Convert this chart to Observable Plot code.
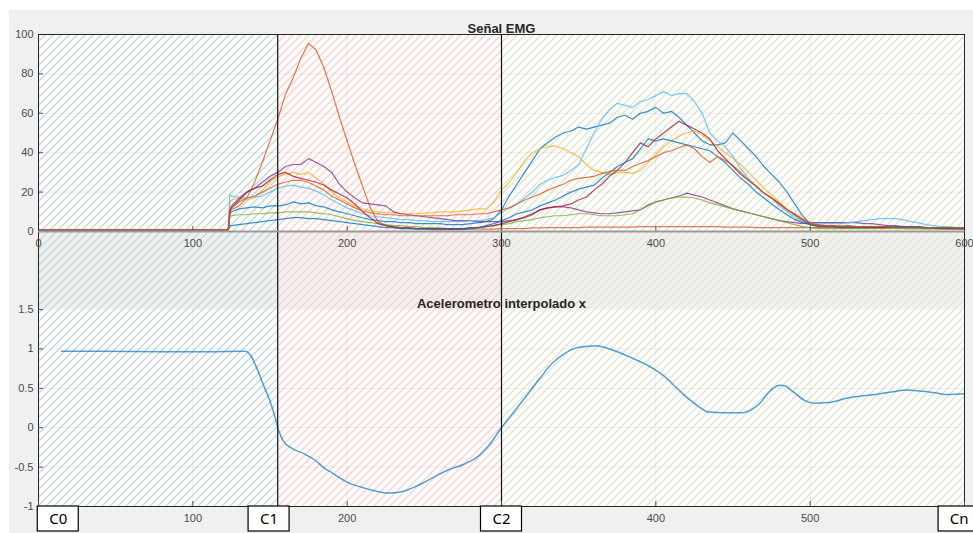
<!DOCTYPE html>
<html><head><meta charset="utf-8">
<script src="https://cdn.jsdelivr.net/npm/d3@7"></script>
<script src="https://cdn.jsdelivr.net/npm/@observablehq/plot@0.6"></script>
<style>
body{margin:0;background:#fff;}
#fig{position:relative;width:973px;height:533px;overflow:hidden;background:#fff;}
#bg{position:absolute;left:9px;top:10px;right:0;bottom:0;background:#f0f0f0;}
#topPanel,#botPanel{position:absolute;left:0;width:973px;}
#topPanel{top:0;height:258px;} #botPanel{top:231px;height:302px;}
svg{overflow:visible;}
</style></head><body>
<div id="fig"><div id="bg"></div><div id="botPanel"></div><div id="topPanel"></div></div>
<script>
// ---------- data ----------
const titleTop = "Señal EMG";
const titleBottom = "Acelerometro interpolado x";

const emgX = [0, 60, 123, 124,
 125,130,135,140,145,150,155,160,165,170,
 175,180,185,190,195,200,205,210,215,220,
 225,230,235,240,245,250,255,260,265,270,
 275,280,285,290,295,300,305,310,315,320,
 325,330,335,340,345,350,355,360,365,370,
 375,380,385,390,395,400,405,410,415,420,
 425,430,435,440,445,450,455,460,465,470,
 475,480,485,490,495,500,505,510,515,520,
 525,530,535,540,545,550,555,560,565,570,
 575,580,585,590,595,600];

const seriesNames = ["s1","s2","s3","s4","s5","s6","s7","s8","s9"];

const emgS1 = [1,1,1,9,
 10,11.5,12,12.5,12,13,13,13.5,15,14,
 14.5,13,12.5,11,10,9,8,7,6,5.5,
 5,5,4.5,4.5,4,4,4,4,3.5,3.5,
 3.5,4,4.5,5,6.5,11,18,24,30,36,
 42,45,48,50,51,53,52,53,54,55,
 58,59,57,60,61,63,60,61,58,54,
 50,46,44,44,45,50,46,42,38,33,
 29,25,20,14,8,4,3.5,3,3,3,
 3,2.5,2.5,2.5,2.5,2.5,2.5,2.5,2.5,2.5,
 2,2,2,2,2,2];
const emgS2 = [0.8,0.8,0.8,10,
 11,13,17,25,35,46,57,69.5,78,88,
 95.5,92,83,71,58,46,34,23,12,5,
 3,2,1.5,1.5,1.5,1.5,1.2,1.2,1.2,1.2,
 1.2,1.2,1.2,1.2,1.2,1.5,1.5,1.5,1.5,1.8,
 1.8,2,2,2,2,2,2.2,2.2,2.2,2.2,
 2.2,2.2,2.2,2.5,2.5,2.5,2.5,2.5,2.5,2.5,
 2.5,2.5,2.5,2.5,2.2,2.2,2.2,2.2,2,2,
 2,2,2,2,2,2,2,2,2,2,
 2,2,2,2,2,2,2,2,2,2,
 2,1.8,1.8,1.5,1.5,1.5];
const emgS3 = [1,1,1,15,
 16,17,16,17,21,25,28,29,30,29,
 30,27,24,20,17,15,13,11.5,10.5,10,
 9.5,9.5,9,9,9,9.5,9.5,10,10,10,
 10.5,11,11.5,11.5,15,21,25,30,36,40,
 42,43,43.5,42,40,38,34,31,30,29,
 30,30,29.5,31,35,39,43,46,48.5,50,
 51,49,46,43,40,37,34,30,26,22,
 18.5,15,11.5,8,5.5,3.5,3,3,3,3,
 2.5,2.5,2.5,2.5,2.5,2.5,2.5,2.5,2.5,2,
 2,2,2,1.8,1.8,1.8];
const emgS4 = [1,1,1,11,
 13,17,20,22,25,28,30,33,34,34,
 37,35,33,30,24,20,17,14.5,14,13.5,
 13,10,9,8.5,8,7.5,7,6.5,6,5.5,
 5.5,5.5,5,5,5,5,5.5,6,7,8.5,
 11,12,12.5,12.5,12,11,10,9.5,9,9,
 9.5,10,10.5,11,13.5,15,16,17,18,19.5,
 18.5,17.5,16,14.5,13,11.5,10.5,9.5,8.5,7.5,
 6.5,5.5,5,4.5,4,4.5,4.5,4.5,4.5,4.5,
 4.5,4.5,4,4,3.5,3,3,2.5,2.5,2,
 2,2,1.8,1.5,1.5,1.5];
const emgS5 = [0.8,0.8,0.8,8,
 8,8.5,8.5,9,9,9.5,9.5,10,10,10,
 10,9.5,9,8.5,7.5,6.5,5.5,5,4.5,4,
 3.5,3,3,2.5,2.5,2,2,1.8,1.5,1.5,
 1.5,1.8,2,2.5,3,3.5,4,5,5.5,6,
 7,7.5,8,8,8.5,9,9,8.5,8,8,
 8,8.5,9,11,13,15,16,17,17.5,17.5,
 17,16,14.5,13.5,12.5,11.5,10.5,9.5,8.5,7.5,
 6.5,5.5,4.5,3.5,2.5,2,1.5,1.5,1.5,1.5,
 1.5,1.5,1.5,1.5,1.5,1.4,1.4,1.4,1.3,1.3,
 1.2,1.2,1.2,1.2,1.2,1.2];
const emgS6 = [1,1,1,19,
 18,17.5,17,17.5,18,20,22,23,23.5,22.5,
 22,20.5,18.5,16,14,12,10.5,9,8,7.5,
 7,6.5,6,6,5.5,5.5,5,5,5,5,
 5,5.5,5.5,6,7,9.5,12,14,17,20,
 24,26,27.5,28.5,31,34,42,50,57,62,
 65,64,63,66,67,69,71,69,70,70,
 66,60,50,46,43,38,32,27,23,19.5,
 17,13,10,7,5,4,4,4,4,4,
 4.5,5,5.5,6,6.5,6.5,6.5,6,5,4.5,
 3.5,3,2.5,2.5,2,2];
const emgS7 = [1,1,1,11,
 12,16,20,22,23,26,29,30,28,27,
 26,25,23.5,21,19,17,14,10,7,4,
 3,2.5,2,2,1.5,1.5,1.5,1.5,1.5,1.5,
 1.5,2,2,2.5,3,4,5,6,7.5,9,
 11,12,12.5,13,14,16,17.5,21,24,28,
 31,35,40,45,43,47,50,53,56,54,
 52,50,47,41,37,33,29,26,23,19.5,
 17,14,11,8.5,6,3.5,2.5,2.5,2.5,2,
 2,2,2,2,2,2,2,2,2,2,
 1.8,1.8,1.5,1.5,1.5,1.5];
const emgS8 = [1,1,1,2.5,
 3,3.5,4,4.5,5,5.5,6,6.5,7,7,
 6.5,6.5,6,5.5,5,4.5,4,3.5,3,2.5,
 2,2,1.5,1.5,1.2,1.2,1,1,1,1,
 1,1.5,2,3,4,5.5,7,9,10,11,
 13,14.5,16,18,20,21.5,22.5,23.5,27,30,
 33,35,37,42,47,46,47,46,45,44,
 43,42,41,38,35,31,27,24,20,17,
 14,11,8.5,6,4.5,3.5,3,3,2.5,2.5,
 2.5,2.5,2.5,2.5,2.5,2.5,2.5,2.5,2.5,2.5,
 2,2,2,2,1.8,1.8];
const emgS9 = [1,1,1,11,
 12,15,17,18,20,22,24,25,26,26,
 25,23,21,18,16,14,12,10.5,9.5,9,
 8.5,8.5,8,8,8,8,8,8,8,8.5,
 8.5,8.5,9,9,10,11,12,14,16,17.5,
 19,21,22.5,24,26,27,27.5,28,29.5,30.5,
 31,31,33,34.5,36,38,40,41,42.5,44,
 42,38,35,38,36,33.5,30,26,23,19.5,
 17,14.5,11,9,6.5,4.5,3,3,3,2.5,
 2.5,2.5,2.5,2.5,2.5,2.5,2,2,2,2,
 2,2,2,1.8,1.8,1.8];

const accX = [15,40,80,110,134,138,142,146,150,153,155.5,158.7,164,172,179,185,190,201,212,227,236,245,255,266,276,285,292,300,308,317.6,325,333,340,348,355,361,371.6,385,397.6,405,412.7,418,423.6,430,434,445,456,462,467,471,476,480,484,488,492,496,503,512,525,542,555,562,575,582,588,600];
const accV = [0.97,0.97,0.965,0.965,0.97,0.9,0.73,0.53,0.34,0.15,-0.03,-0.17,-0.26,-0.33,-0.41,-0.51,-0.57,-0.70,-0.77,-0.83,-0.81,-0.74,-0.64,-0.53,-0.46,-0.36,-0.22,0.0,0.2,0.44,0.63,0.82,0.93,1.01,1.03,1.04,0.99,0.88,0.76,0.66,0.52,0.42,0.33,0.24,0.2,0.19,0.19,0.23,0.3,0.4,0.5,0.54,0.53,0.47,0.41,0.35,0.31,0.32,0.38,0.42,0.46,0.48,0.46,0.44,0.42,0.43];

const regionStart = [0, 155, 300];
const regionEnd = [155, 300, 600];
const boundaries = [155, 300];
const labelNames = ["C0", "C1", "C2", "Cn"];
const labelX = [12.8, 149.4, 300, 596.5];

const xTicks = [0,100,200,300,400,500,600];
const xTickLabelsBot = [100,200,400,500];
const xGrid = [100,200,300,400,500];
const yTicksTop = [0,20,40,60,80,100];
const yTicksBot = [-1,-0.5,0,0.5,1,1.5];

// ---------- styles ----------
const seriesColors = ["#0072BD","#D95319","#EDB120","#7E2F8E","#77AC30","#4DBEEE","#A2142F","#0072BD","#D95319"];
const hatchColors = ["#c9dadb", "#f6d4d1", "#e2e5d1"];
const W = 973, ML = 38, MR = 9, PH = 197, GAP = 78;
const font = "'Liberation Sans', Arial, sans-serif";

const emgAll = [emgS1,emgS2,emgS3,emgS4,emgS5,emgS6,emgS7,emgS8,emgS9];
const emgRows = [];
emgAll.forEach((vals, k) => vals.forEach((v, i) => emgRows.push({x: emgX[i], v, s: seriesNames[k]})));
const accRows = accX.map((x, i) => ({x, v: accV[i]}));
const regions = regionStart.map((s, i) => ({start: s, end: regionEnd[i]}));
const labels = labelNames.map((n, i) => ({name: n, x: labelX[i]}));

function addPatterns(svg, prefix, offY) {
  const ns = "http://www.w3.org/2000/svg";
  const defs = document.createElementNS(ns, "defs");
  hatchColors.forEach((c, i) => {
    const p = document.createElementNS(ns, "pattern");
    p.setAttribute("id", `${prefix}-h${i}`);
    p.setAttribute("patternUnits", "userSpaceOnUse");
    p.setAttribute("width", 8); p.setAttribute("height", 8);
    p.setAttribute("y", -offY);
    const path = document.createElementNS(ns, "path");
    path.setAttribute("d", "M-2,2L2,-2M0,8L8,0M6,10L10,6");
    path.setAttribute("stroke", c); path.setAttribute("stroke-width", 1.5);
    p.appendChild(path); defs.appendChild(p);
  });
  svg.insertBefore(defs, svg.firstChild);
}

// ---------- top panel ----------
const plotTop = Plot.plot({
  width: W, height: 34 + PH + 27,
  marginLeft: ML, marginRight: MR, marginTop: 34, marginBottom: 27,
  style: {background: "transparent", fontFamily: font, fontSize: "11px", color: "#4a4a4a", overflow: "visible"},
  x: {domain: [0, 600]},
  y: {domain: [0, 100]},
  color: {type: "ordinal", domain: seriesNames, range: seriesColors},
  marks: [
    Plot.frame({fill: "white", stroke: "none"}),
    ...regions.map((r, i) => Plot.rect([r], {x1: "start", x2: "end", fill: `url(#t-h${i})`})),
    Plot.gridX(xGrid, {stroke: "#000", strokeOpacity: 0.07}),
    Plot.gridY(yTicksTop.slice(1, -1), {stroke: "#000", strokeOpacity: 0.07}),
    Plot.line(emgRows, {x: "x", y: "v", z: "s", stroke: "s", strokeWidth: 1.2, strokeOpacity: 0.78}),
    Plot.ruleX(boundaries, {stroke: "#111", strokeWidth: 1.2}),
    Plot.ruleY(yTicksTop, {insetRight: 926 - 5, stroke: "#555"}),
    Plot.ruleX(xTicks, {insetTop: PH - 5, stroke: "#555"}),
    Plot.ruleY([100], {stroke: "#262626"}),
    Plot.ruleX([0, 600], {stroke: "#262626"}),
    Plot.ruleY([0], {stroke: "#9a9a9a", strokeWidth: 2}),
    Plot.axisY(yTicksTop, {tickSize: 0, tickPadding: 5, label: null, tickFormat: d => String(d)}),
    Plot.axisX(xTicks, {tickSize: 0, tickPadding: 8, label: null, tickFormat: d => String(d)}),
    Plot.text([titleTop], {frameAnchor: "top", dy: -11, fontWeight: "bold", fontSize: 13, fill: "#262626", fontFamily: font})
  ]
});
addPatterns(plotTop, "t", 0);
document.getElementById("topPanel").appendChild(plotTop);

// ---------- bottom panel ----------
const gapTop = 1.5 + GAP * 2.5 / PH;
const plotBot = Plot.plot({
  width: W, height: GAP + PH + 27,
  marginLeft: ML, marginRight: MR, marginTop: GAP, marginBottom: 27,
  style: {background: "transparent", fontFamily: font, fontSize: "11px", color: "#4a4a4a", overflow: "visible"},
  x: {domain: [0, 600]},
  y: {domain: [-1, 1.5]},
  marks: [
    Plot.frame({fill: "white", stroke: "none"}),
    ...regions.map((r, i) => Plot.rect([r], {x1: "start", x2: "end", y1: -1, y2: gapTop, fill: `url(#b-h${i})`})),
    Plot.gridX(xGrid, {stroke: "#000", strokeOpacity: 0.07}),
    Plot.gridY(yTicksBot.slice(1, -1), {stroke: "#000", strokeOpacity: 0.07}),
    Plot.line(accRows, {x: "x", y: "v", stroke: "#0072BD", strokeOpacity: 0.68, strokeWidth: 1.5, curve: "monotone-x"}),
    Plot.ruleX(boundaries, {y1: -1, y2: gapTop, stroke: "#111", strokeWidth: 1.2}),
    Plot.ruleX([0, 600], {y1: -1, y2: gapTop, stroke: "#262626"}),
    Plot.ruleY(yTicksBot, {insetRight: 926 - 5, stroke: "#555"}),
    Plot.ruleX(xTicks, {insetTop: PH - 5, stroke: "#555"}),
    Plot.ruleY([-1], {stroke: "#262626"}),
    Plot.axisY(yTicksBot, {tickSize: 0, tickPadding: 5, label: null, tickFormat: d => String(d)}),
    Plot.axisX(xTickLabelsBot, {tickSize: 0, tickPadding: 8, label: null, tickFormat: d => String(d)}),
    Plot.text([titleBottom], {frameAnchor: "top", dy: -11, fontWeight: "bold", fontSize: 13, fill: "#262626", fontFamily: font}),
    Plot.rect(labels, {x1: "x", x2: "x", y1: -1, y2: -1, insetLeft: -20.5, insetRight: -20.5, insetTop: 0, insetBottom: -25, fill: "white", stroke: "#000", strokeWidth: 1.2}),
    Plot.text(labels, {x: "x", y: -1, dy: 13, text: "name", fontSize: 15, fill: "#000", fontFamily: "'Noto Sans', sans-serif"})
  ]
});
addPatterns(plotBot, "b", 231);
document.getElementById("botPanel").appendChild(plotBot);
</script>
</body></html>
